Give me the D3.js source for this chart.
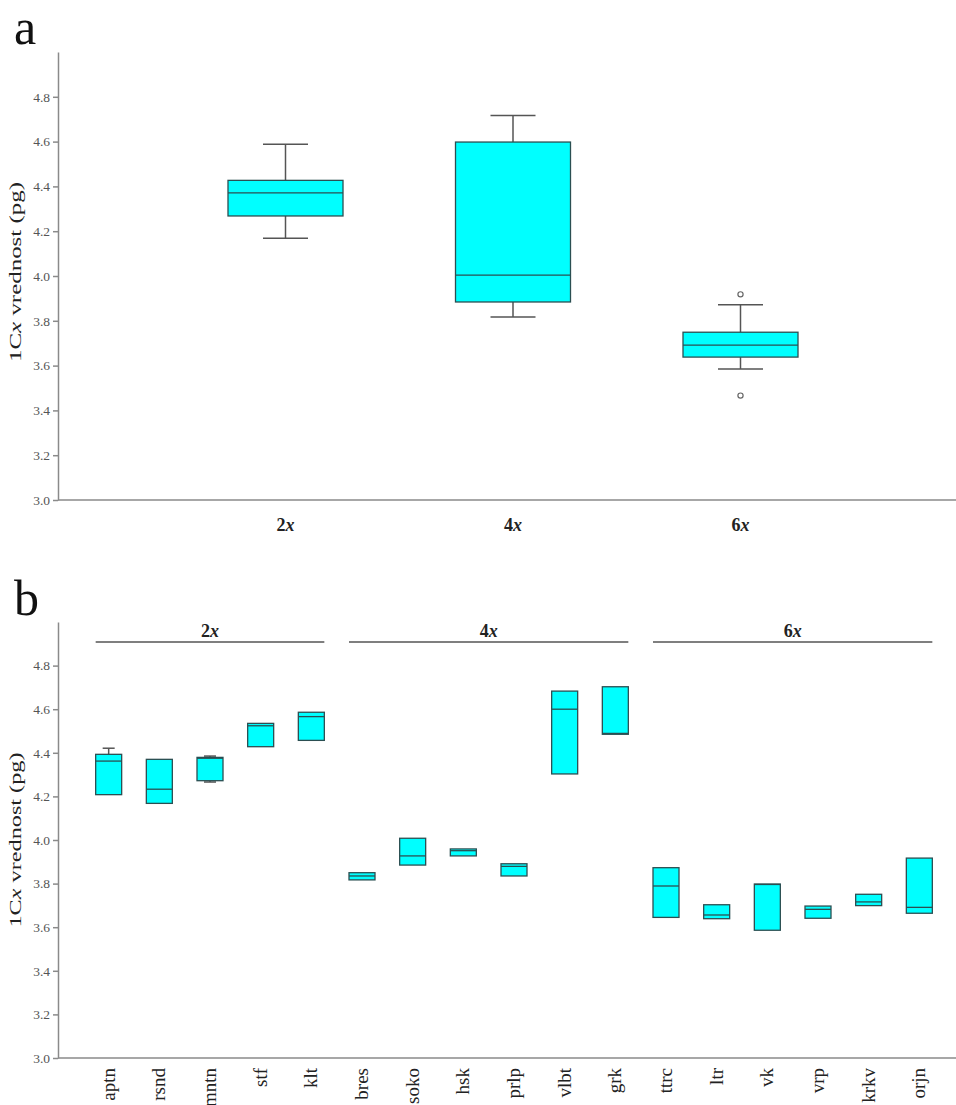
<!DOCTYPE html>
<html>
<head>
<meta charset="utf-8">
<script src="https://cdn.jsdelivr.net/npm/d3@7"></script>
<style>
  body { margin: 0; background: #fff; }
  svg text { font-family: "Liberation Serif", "DejaVu Serif", serif; }
  .axis path, .axis line { stroke: #8a8a8a; stroke-width: 1.5; }
  .axis text { fill: #555; font-size: 13.5px; }
</style>
</head>
<body>
<script>
// panel a - ploidy levels
var ploidyA = ["2x", "4x", "6x"]
var aMin = [4.168, 3.817, 3.585]
var aQ1  = [4.268, 3.884, 3.638]
var aMed = [4.371, 4.004, 3.691]
var aQ3  = [4.427, 4.598, 3.749]
var aMax = [4.588, 4.716, 3.872]
var aOutliers = [[], [], [3.918, 3.466]]

// panel b - populations
var popsB = ["aptn", "rsnd", "mntn", "stf", "klt", "bres", "soko", "hsk", "prlp", "vlbt", "grk",
             "ttrc", "ltr", "vk", "vrp", "krkv", "orjn"]
var bMin = [4.208, 4.168, 4.266, 4.428, 4.457, 3.817, 3.885, 3.927, 3.835, 4.303, 4.485,
            3.645, 3.639, 3.586, 3.641, 3.699, 3.664]
var bQ1  = [4.208, 4.168, 4.272, 4.428, 4.457, 3.817, 3.885, 3.927, 3.835, 4.303, 4.485,
            3.645, 3.639, 3.586, 3.641, 3.699, 3.664]
var bMed = [4.362, 4.233, 4.375, 4.524, 4.566, 3.835, 3.927, 3.951, 3.879, 4.600, 4.489,
            3.789, 3.656, 3.796, 3.682, 3.716, 3.691]
var bQ3  = [4.393, 4.370, 4.379, 4.535, 4.586, 3.850, 4.008, 3.959, 3.891, 4.683, 4.703,
            3.873, 3.703, 3.798, 3.697, 3.751, 3.917]
var bMax = [4.421, 4.370, 4.385, 4.535, 4.586, 3.850, 4.008, 3.959, 3.891, 4.683, 4.703,
            3.873, 3.703, 3.798, 3.697, 3.751, 3.917]
var groupLabels = ["2x", "4x", "6x"]
var groupFirst = ["aptn", "bres", "ttrc"]
var groupLast = ["klt", "grk", "orjn"]

var yTicks = [3.0, 3.2, 3.4, 3.6, 3.8, 4.0, 4.2, 4.4, 4.6, 4.8]

var W = 956, H = 1105
var svg = d3.select("body").append("svg")
  .attr("width", W)
  .attr("height", H)

var boxFill = "#00ffff"
var boxStroke = "#2b4f52"
var whiskColor = "#555"

// writes "2x" style label with an italic x
function ploidyText(sel, s) {
  sel.text(null)
  sel.append("tspan").text(s.slice(0, -1))
  sel.append("tspan").attr("font-style", "italic").text("x")
}

function drawYAxis(g, y, cy, len) {
  g.append("g")
    .attr("class", "axis")
    .attr("transform", "translate(58,0)")
    .call(d3.axisLeft(y).tickValues(yTicks).tickFormat(d3.format(".1f")).tickSize(5).tickSizeOuter(0))

  // the original title is stretched along its length
  var t = g.append("text")
    .attr("transform", "translate(21," + cy + ") rotate(-90)")
    .attr("text-anchor", "middle")
    .attr("font-size", 17)
    .attr("fill", "#222")
    .attr("textLength", len)
    .attr("lengthAdjust", "spacingAndGlyphs")
  t.append("tspan").text("1C")
  t.append("tspan").attr("font-style", "italic").text("x")
  t.append("tspan").text(" vrednost (pg)")
}

function drawBoxes(g, x, y, cats, mn, q1, md, q3, mx, bw, capw) {
  cats.forEach(function(c, i) {
    var cx = x(c)
    if (mx[i] > q3[i]) {
      g.append("line").attr("x1", cx).attr("x2", cx).attr("y1", y(q3[i])).attr("y2", y(mx[i]))
        .attr("stroke", whiskColor).attr("stroke-width", 1.5)
      g.append("line").attr("x1", cx - capw / 2).attr("x2", cx + capw / 2).attr("y1", y(mx[i])).attr("y2", y(mx[i]))
        .attr("stroke", whiskColor).attr("stroke-width", 1.5)
    }
    if (mn[i] < q1[i]) {
      g.append("line").attr("x1", cx).attr("x2", cx).attr("y1", y(q1[i])).attr("y2", y(mn[i]))
        .attr("stroke", whiskColor).attr("stroke-width", 1.5)
      g.append("line").attr("x1", cx - capw / 2).attr("x2", cx + capw / 2).attr("y1", y(mn[i])).attr("y2", y(mn[i]))
        .attr("stroke", whiskColor).attr("stroke-width", 1.5)
    }
    g.append("rect")
      .attr("x", cx - bw / 2)
      .attr("y", y(q3[i]))
      .attr("width", bw)
      .attr("height", y(q1[i]) - y(q3[i]))
      .attr("fill", boxFill)
      .attr("stroke", boxStroke)
      .attr("stroke-width", 1.3)
    g.append("line")
      .attr("x1", cx - bw / 2).attr("x2", cx + bw / 2)
      .attr("y1", y(md[i])).attr("y2", y(md[i]))
      .attr("stroke", boxStroke).attr("stroke-width", 1.3)
  })
}

// ---------- panel a ----------
var ga = svg.append("g")
var xA = d3.scalePoint().domain(ploidyA).range([58, 968]).padding(1)
var yA = d3.scaleLinear().domain([3, 5]).range([500, 52])

ga.append("text").attr("x", 14).attr("y", 44).attr("font-size", 50).attr("fill", "#111").text("a")
drawYAxis(ga, yA, 272, 180)

ga.append("line").attr("x1", 58).attr("x2", W).attr("y1", yA(3)).attr("y2", yA(3))
  .attr("stroke", "#8a8a8a").attr("stroke-width", 1.5)
ga.selectAll(".xlab").data(ploidyA).enter().append("text")
  .attr("class", "xlab")
  .attr("x", function(d) { return xA(d) })
  .attr("y", 531)
  .attr("text-anchor", "middle")
  .attr("font-size", 18)
  .attr("font-weight", "bold")
  .attr("fill", "#222")
  .each(function(d) { ploidyText(d3.select(this), d) })

drawBoxes(ga, xA, yA, ploidyA, aMin, aQ1, aMed, aQ3, aMax, 115, 45)

aOutliers.forEach(function(arr, i) {
  ga.selectAll(null).data(arr).enter().append("circle")
    .attr("cx", xA(ploidyA[i]))
    .attr("cy", function(d) { return yA(d) })
    .attr("r", 2.6)
    .attr("fill", "#fff")
    .attr("stroke", "#666")
    .attr("stroke-width", 1.2)
})

// ---------- panel b ----------
var gb = svg.append("g")
var xB = d3.scalePoint().domain(popsB).range([58, 970]).padding(1)
var yB = d3.scaleLinear().domain([3, 5]).range([1058, 622])

gb.append("text").attr("x", 14).attr("y", 615).attr("font-size", 50).attr("fill", "#111").text("b")
drawYAxis(gb, yB, 840, 175)

gb.append("line").attr("x1", 58).attr("x2", W).attr("y1", yB(3)).attr("y2", yB(3))
  .attr("stroke", "#8a8a8a").attr("stroke-width", 1.5)

gb.selectAll(".poplab").data(popsB).enter().append("text")
  .attr("class", "poplab")
  .attr("transform", function(d) { return "translate(" + (xB(d) + 6) + ",1068) rotate(-90)" })
  .attr("text-anchor", "end")
  .attr("font-size", 19)
  .attr("fill", "#222")
  .text(function(d) { return d })

var half = 13
groupLabels.forEach(function(lab, i) {
  var x1 = xB(groupFirst[i]) - half
  var x2 = xB(groupLast[i]) + half
  gb.append("line").attr("x1", x1).attr("x2", x2).attr("y1", 642).attr("y2", 642)
    .attr("stroke", "#555").attr("stroke-width", 1.5)
  gb.append("text")
    .attr("x", (x1 + x2) / 2)
    .attr("y", 637)
    .attr("text-anchor", "middle")
    .attr("font-size", 18)
    .attr("font-weight", "bold")
    .attr("fill", "#222")
    .call(ploidyText, lab)
})

drawBoxes(gb, xB, yB, popsB, bMin, bQ1, bMed, bQ3, bMax, 26, 12)
</script>
</body>
</html>
